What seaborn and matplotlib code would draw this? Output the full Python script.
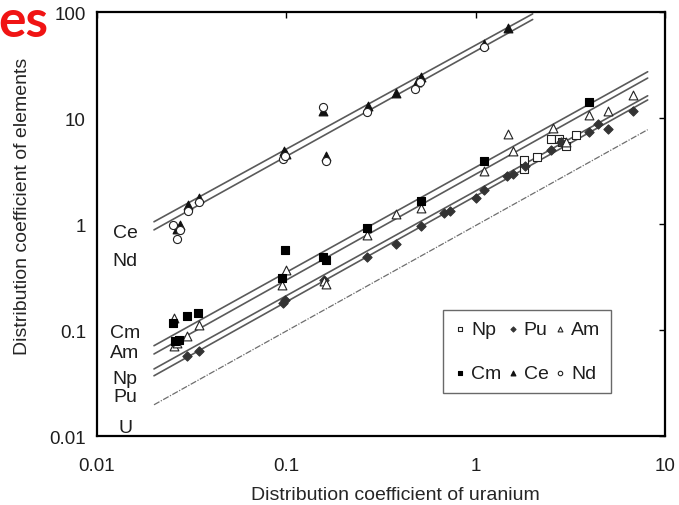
import numpy as np
import pandas as pd
import matplotlib
matplotlib.use('Agg')
import matplotlib.pyplot as plt
import seaborn as sns

# --- values (x = Kd of uranium, y = Kd of element) ---
np_u = [1.79, 1.81, 2.10, 2.49, 2.75, 2.85, 3.00, 3.39]
np_d = [4.00, 3.30, 4.25, 6.40, 6.30, 6.00, 5.40, 6.95]

pu_u = [0.030, 0.0345, 0.096, 0.098, 0.158, 0.268, 0.38, 0.515, 0.68, 0.735,
        1.00, 1.11, 1.46, 1.58, 1.83, 2.51, 2.83, 3.97, 4.45, 5.02, 6.76]
pu_d = [0.057, 0.063, 0.180, 0.190, 0.297, 0.49, 0.65, 0.95, 1.27, 1.32,
        1.76, 2.11, 2.86, 2.98, 3.50, 5.00, 6.00, 7.43, 8.80, 7.87, 11.7]

am_u = [0.0256, 0.0256, 0.0265, 0.030, 0.0345, 0.095, 0.099, 0.158, 0.162, 0.268,
        0.38, 0.515, 1.11, 1.48, 1.57, 2.55, 3.00, 3.97, 5.00, 6.76]
am_d = [0.130, 0.071, 0.075, 0.088, 0.112, 0.265, 0.37, 0.29, 0.27, 0.78,
        1.24, 1.41, 3.14, 7.00, 4.85, 8.05, 5.90, 10.7, 11.6, 16.5]

cm_u = [0.0253, 0.0258, 0.0272, 0.030, 0.0343, 0.095, 0.098, 0.157, 0.162, 0.268,
        0.515, 1.11, 3.97]
cm_d = [0.116, 0.079, 0.081, 0.136, 0.144, 0.31, 0.57, 0.485, 0.46, 0.91,
        1.66, 3.90, 14.3]

ce_u = [0.0264, 0.0275, 0.0301, 0.0346, 0.097, 0.100, 0.157, 0.162, 0.271, 0.381,
        0.49, 0.515, 1.10, 1.49]
ce_d = [0.90, 0.98, 1.51, 1.75, 4.90, 4.60, 11.6, 4.35, 12.9, 17.1,
        22.0, 24.2, 50.0, 70.0]

nd_u = [0.0253, 0.0264, 0.0275, 0.0301, 0.0346, 0.096, 0.098, 0.157, 0.162, 0.268,
        0.48, 0.51, 1.10]
nd_d = [0.98, 0.72, 0.87, 1.34, 1.60, 4.10, 4.40, 12.6, 3.90, 11.3,
        18.8, 22.0, 47.0]

# fitted lines, start/end of each
line_names = ['Ce', 'Nd', 'Cm', 'Am', 'Np', 'Pu', 'U']
line_u0 = [0.02, 0.02, 0.02, 0.02, 0.02, 0.02, 0.02]
line_u1 = [2.0, 2.0, 8.1, 8.1, 8.1, 8.1, 8.1]
line_d0 = [1.05, 0.88, 0.0711, 0.0594, 0.0429, 0.0370, 0.0197]
line_d1 = [96.0, 85.0, 27.3, 23.8, 16.2, 14.8, 7.76]

TEXT = '#1e1e1e'
LINE = '#5a5a5a'

sns.set_style('white')
plt.rcParams['font.family'] = ['Liberation Sans', 'DejaVu Sans']
plt.rcParams['text.color'] = TEXT
plt.rcParams['xtick.color'] = 'black'
plt.rcParams['ytick.color'] = 'black'
plt.rcParams['xtick.labelcolor'] = TEXT
plt.rcParams['ytick.labelcolor'] = TEXT

fig = plt.figure(figsize=(6.79, 5.06), dpi=100)
ax = fig.add_axes([97 / 679, 1 - 437 / 506, 568 / 679, 424 / 506])

# fit lines
for name, u0, u1, d0, d1 in zip(line_names, line_u0, line_u1, line_d0, line_d1):
    if name == 'U':
        sns.lineplot(x=[u0, u1], y=[d0, d1], ax=ax, color='#6e6e6e', lw=0.9,
                     linestyle=(0, (5, 1.2, 1, 1.2)), sort=False)
    else:
        sns.lineplot(x=[u0, u1], y=[d0, d1], ax=ax, color=LINE, lw=1.2, sort=False)

# data points
kw = dict(ax=ax, linewidth=0.8, zorder=3)
sns.scatterplot(x=np_u, y=np_d, marker='s', s=34, facecolor='white', edgecolor='#222222', label='Np', **kw)
sns.scatterplot(x=pu_u, y=pu_d, marker='D', s=22, color='#333333', edgecolor='#333333', label='Pu', **kw)
sns.scatterplot(x=am_u, y=am_d, marker='^', s=40, facecolor='white', edgecolor='#222222', label='Am', **kw)
sns.scatterplot(x=cm_u, y=cm_d, marker='s', s=34, color='black', edgecolor='black', label='Cm', **kw)
sns.scatterplot(x=ce_u, y=ce_d, marker='^', s=40, color='#111111', edgecolor='#111111', label='Ce', **kw)
sns.scatterplot(x=nd_u, y=nd_d, marker='o', s=34, facecolor='white', edgecolor='#222222', label='Nd', **kw)

ax.set_xscale('log')
ax.set_yscale('log')
ax.set_xlim(0.01, 10)
ax.set_ylim(0.01, 100)
ax.set_xticks([0.01, 0.1, 1, 10])
ax.set_xticklabels(['0.01', '0.1', '1', '10'])
ax.set_yticks([0.01, 0.1, 1, 10, 100])
ax.set_yticklabels(['0.01', '0.1', '1', '10', '100'])
ax.minorticks_off()
ax.tick_params(axis='both', which='major', direction='in', length=4, width=1,
               top=True, right=True, labelsize=13.5)
ax.tick_params(axis='x', pad=15)
ax.tick_params(axis='y', pad=8)
for sp in ax.spines.values():
    sp.set_visible(True)
    sp.set_color('black')
    sp.set_linewidth(1.6)

ax.set_xlabel('Distribution coefficient of uranium', fontsize=14)
ax.set_ylabel('Distribution coefficient of elements', fontsize=14)
ax.xaxis.set_label_coords(0.525, -0.118)
ax.yaxis.set_label_coords(-0.116, 0.545)

# element names beside the line starts
for name, yv in [('Ce', 0.836), ('Nd', 0.457), ('Cm', 0.0937), ('Am', 0.0616),
                 ('Np', 0.0345), ('Pu', 0.0237), ('U', 0.0121)]:
    ax.text(0.01406, yv, name, ha='center', va='center', fontsize=14, color=TEXT)

# legend in rows: Np Pu Am / Cm Ce Nd
handles, labels = ax.get_legend_handles_labels()
lookup = dict(zip(labels, handles))
order = ['Np', 'Cm', 'Pu', 'Ce', 'Am', 'Nd']
leg = ax.legend([lookup[k] for k in order], order, ncol=3, loc='upper left',
                bbox_to_anchor=(0.609, 0.297), borderaxespad=0, fontsize=14,
                markerscale=0.55, handletextpad=0.2, columnspacing=0.25,
                handlelength=0.7, labelspacing=1.35, borderpad=0.55,
                fancybox=False, frameon=True)
leg.get_frame().set_edgecolor('#444444')
leg.get_frame().set_linewidth(1.0)

# piece of slide title cropped at the top left
fig.text(48 / 679, 1 - 37 / 506, 'es', ha='right', va='baseline', fontsize=37,
         fontweight='bold', color='#f01414', family=['Lato', 'DejaVu Sans'])

fig.savefig('out.png', dpi=100)
